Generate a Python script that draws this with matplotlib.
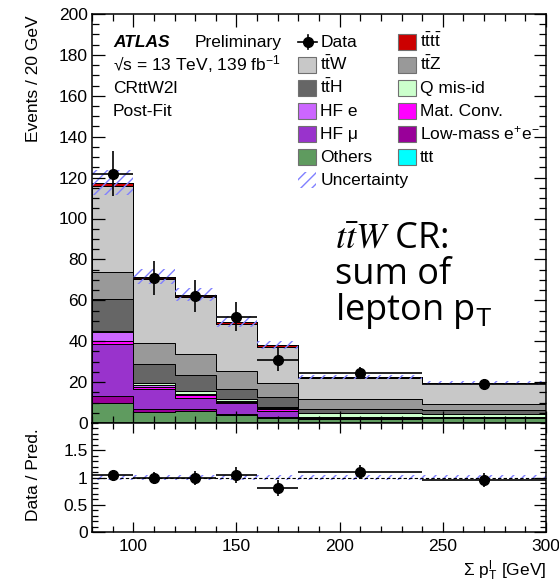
import numpy as np
import matplotlib
matplotlib.use("Agg")
import matplotlib.pyplot as plt
from matplotlib.patches import Rectangle
from matplotlib.lines import Line2D
from matplotlib.ticker import MultipleLocator, FuncFormatter

plt.rcParams['font.family'] = ['Liberation Sans', 'DejaVu Sans']
plt.rcParams['mathtext.fontset'] = 'custom'
plt.rcParams['mathtext.rm'] = 'Liberation Sans'
plt.rcParams['mathtext.it'] = 'Liberation Sans:italic'
plt.rcParams['mathtext.bf'] = 'Liberation Sans:bold'
plt.rcParams['hatch.linewidth'] = 1.0

# ---- binning and yields (events / 20 GeV) ----
bin_edges = [80, 100, 120, 140, 160, 180, 240, 300]
data_counts = [122, 71, 62, 52, 31, 74, 57]

others   = [9.6, 5.4, 6.0, 3.9, 2.3, 1.8, 2.3]
lowmass  = [3.6, 1.5, 1.0, 0.7, 0.5, 0.2, 0.2]
hf_mu    = [25.4, 9.6, 5.4, 5.0, 3.2, 0.6, 0.3]
matconv  = [1.7, 1.3, 1.1, 0.8, 0.7, 0.3, 0.2]
hf_e     = [4.4, 0.8, 0.9, 0.5, 0.4, 0.2, 0.1]
qmisid   = [0.4, 1.1, 1.4, 1.0, 0.8, 1.8, 1.5]
tth      = [15.4, 9.3, 7.8, 4.9, 4.7, 2.0, 1.8]
ttz      = [13.5, 10.0, 10.2, 8.5, 6.8, 4.9, 3.0]
ttw      = [42.0, 31.5, 28.0, 23.3, 17.9, 10.2, 10.0]
tttt     = [1.5, 1.0, 0.9, 0.9, 0.7, 0.4, 0.3]
ttt      = [0.1, 0.1, 0.1, 0.1, 0.1, 0.05, 0.05]
rel_unc  = [0.05, 0.05, 0.05, 0.05, 0.05, 0.05, 0.05]

stack = [
    ('Others', others, '#5f9b5f'),
    (r'Low-mass e$^{+}$e$^{-}$', lowmass, '#990099'),
    ('HF μ', hf_mu, '#9933cc'),
    ('Mat. Conv.', matconv, '#ff00ff'),
    ('HF e', hf_e, '#cc66ff'),
    ('Q mis-id', qmisid, '#ccffcc'),
    (r'$\mathrm{t\bar{t}H}$', tth, '#666666'),
    (r'$\mathrm{t\bar{t}Z}$', ttz, '#999999'),
    (r'$\mathrm{t\bar{t}W}$', ttw, '#c8c8c8'),
    (r'$\mathrm{t\bar{t}t\bar{t}}$', tttt, '#cc0000'),
    ('ttt', ttt, '#00ffff'),
]
colors = {name: c for name, _, c in stack}

W, H = 559, 584
fig = plt.figure(figsize=(W / 100, H / 100), dpi=100)


def fx(px):
    return px / W


def fy(py):
    return 1 - py / H


ax = fig.add_axes([fx(92), fy(423), (546 - 92) / W, (423 - 14) / H])
rax = fig.add_axes([fx(92), fy(532), (546 - 92) / W, (532 - 423) / H])

edges = np.array(bin_edges, dtype=float)
widths = np.diff(edges)
centers = 0.5 * (edges[:-1] + edges[1:])
scale = 20.0 / widths

# stacked prediction
base = np.zeros(len(centers))
for name, vals, col in stack:
    v = np.array(vals)
    ax.stairs(base + v, edges, baseline=base.copy(), fill=True,
              facecolor=col, edgecolor='black', linewidth=0.7)
    base = base + v
total = base
unc = np.array(rel_unc)

hatch_col = '#8080ff'
ax.stairs(total * (1 + unc), edges, baseline=total * (1 - unc), fill=True,
          facecolor='none', edgecolor=hatch_col, hatch='///', linewidth=0)

# data
counts = np.array(data_counts, dtype=float)
y = counts * scale
yerr = np.sqrt(counts) * scale
ax.errorbar(centers, y, xerr=widths / 2, yerr=yerr, fmt='o', color='black',
            ms=7, elinewidth=1.2, capsize=0)

# ratio panel
ratio = y / total
ratio_err = yerr / total
rax.stairs(1 + unc, edges, baseline=1 - unc, fill=True, facecolor='none',
           edgecolor=hatch_col, hatch='///', linewidth=0)
rax.axhline(1.0, color='black', lw=0.8, ls=(0, (3, 2)))
rax.errorbar(centers, ratio, xerr=widths / 2, yerr=ratio_err, fmt='o',
             color='black', ms=7, elinewidth=1.2, capsize=0)

# axes styling
for a in (ax, rax):
    a.set_xlim(80, 300)
    for s in a.spines.values():
        s.set_linewidth(1.1)
    a.xaxis.set_major_locator(MultipleLocator(50))
    a.xaxis.set_minor_locator(MultipleLocator(10))
    a.tick_params(which='both', direction='in', top=True, right=True,
                  labelsize=12.5, width=0.9)

ax.set_ylim(0, 200)
ax.yaxis.set_major_locator(MultipleLocator(20))
ax.yaxis.set_minor_locator(MultipleLocator(5))
ax.tick_params(which='major', length=9, pad=3)
ax.tick_params(which='minor', length=5)
ax.tick_params(labelbottom=False)

rax.set_ylim(0, 2)
rax.set_yticks([0, 0.5, 1, 1.5])
rax.yaxis.set_minor_locator(MultipleLocator(0.1))
rax.yaxis.set_major_formatter(FuncFormatter(lambda v, p: f'{v:g}'))
rax.tick_params(axis='y', which='major', length=9, pad=3)
rax.tick_params(axis='y', which='minor', length=4)
rax.tick_params(axis='x', which='major', length=7, pad=5)
rax.tick_params(axis='x', which='minor', length=4)

fig.text(fx(34), fy(15), 'Events / 20 GeV', rotation=90, ha='center',
         va='top', fontsize=12.5)
fig.text(fx(34), fy(475), 'Data / Pred.', rotation=90, ha='center',
         va='center', fontsize=12.5)
fig.text(fx(546), fy(576), r'Σ p$_{\mathrm{T}}^{\mathrm{l}}$ [GeV]',
         ha='right', va='baseline', fontsize=12.5)

# labels
fs = 12.5
fig.text(fx(113), fy(47), 'ATLAS', fontsize=fs, fontweight='bold',
         fontstyle='italic', va='baseline')
fig.text(fx(195), fy(47), 'Preliminary', fontsize=fs, va='baseline')
fig.text(fx(113), fy(70), r'√s = 13 TeV, 139 fb$^{-1}$', fontsize=fs,
         va='baseline')
fig.text(fx(113), fy(93), 'CRttW2l', fontsize=fs, va='baseline')
fig.text(fx(113), fy(116), 'Post-Fit', fontsize=fs, va='baseline')

# legend, two columns
row_y = [42, 65, 88, 111, 134, 157, 180]
col1 = ['Data', r'$\mathrm{t\bar{t}W}$', r'$\mathrm{t\bar{t}H}$', 'HF e',
        'HF μ', 'Others', 'Uncertainty']
col2 = [r'$\mathrm{t\bar{t}t\bar{t}}$', r'$\mathrm{t\bar{t}Z}$', 'Q mis-id',
        'Mat. Conv.', r'Low-mass e$^{+}$e$^{-}$', 'ttt']


def box(x0, yc, **kw):
    fig.add_artist(Rectangle((fx(x0), fy(yc + 8)), 18 / W, 16 / H,
                             transform=fig.transFigure, **kw))


for label, yc in zip(col1, row_y):
    if label == 'Data':
        fig.add_artist(Line2D([fx(298), fx(317)], [fy(yc), fy(yc)],
                              color='black', lw=1.2))
        fig.add_artist(Line2D([fx(307.5), fx(307.5)], [fy(yc - 7), fy(yc + 7)],
                              color='black', lw=1.2))
        fig.add_artist(Line2D([fx(307.5)], [fy(yc)], marker='o', ms=7,
                              color='black'))
    elif label == 'Uncertainty':
        box(298, yc, facecolor='none', edgecolor=hatch_col, hatch='///',
            linewidth=0)
    else:
        box(298, yc, facecolor=colors[label], edgecolor='#707070',
            linewidth=0.8)
    fig.text(fx(320.5), fy(yc + 5), label, fontsize=fs, va='baseline')

for label, yc in zip(col2, row_y):
    box(398, yc, facecolor=colors[label], edgecolor='#707070', linewidth=0.8)
    fig.text(fx(420), fy(yc + 5), label, fontsize=fs, va='baseline')

# region annotation
big = 26
fig.text(fx(335), fy(249), r'$t\bar{t}W$ CR:', fontsize=big,
         family='Open Sans', math_fontfamily='stix', va='baseline')
fig.text(fx(335), fy(284), 'sum of', fontsize=big, family='Open Sans',
         va='baseline')
fig.text(fx(335), fy(320), r'lepton p$_{\mathrm{T}}$', fontsize=big,
         family='Open Sans', va='baseline')

fig.savefig('out.png', dpi=100)
